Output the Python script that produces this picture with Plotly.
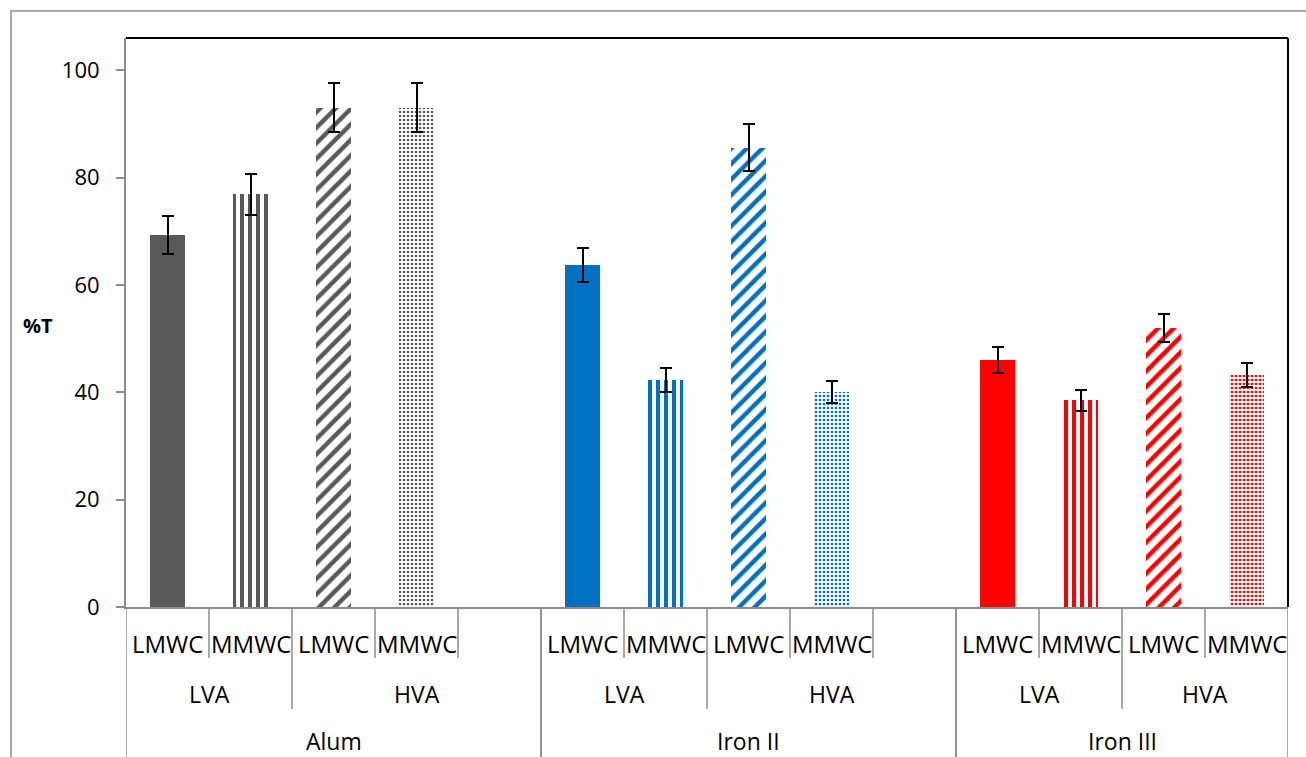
import plotly.graph_objects as go

# ---- data -------------------------------------------------------------
metals = ["Alum", "Iron II", "Iron III"]
va_levels = ["LVA", "HVA"]
mw_levels = ["LMWC", "MMWC"]

# %T per metal, ordered LVA-LMWC, LVA-MMWC, HVA-LMWC, HVA-MMWC
alum_vals = [69.3, 76.9, 93.0, 93.0]
iron2_vals = [63.7, 42.3, 85.6, 40.0]
iron3_vals = [46.0, 38.5, 51.9, 43.2]

alum_err = [3.5, 3.8, 4.6, 4.6]
iron2_err = [3.2, 2.2, 4.3, 2.05]
iron3_err = [2.35, 1.9, 2.6, 2.2]

metal_colors = ["#595959", "#0070C0", "#FF0000"]

values = [alum_vals, iron2_vals, iron3_vals]
errors = [alum_err, iron2_err, iron3_err]

# ---- layout helpers -----------------------------------------------------
W, H = 1306, 757
L, R, T, B = 126, 18, 38, 150
plot_h = H - T - B
plot_w = W - L - R

slots_per_metal = len(va_levels) * len(mw_levels)  # bars per metal
group_step = slots_per_metal + 1                     # one blank slot between metals
n_slots = group_step * (len(metals) - 1) + slots_per_metal


def py(px_y):
    """pixel row -> paper y"""
    return (H - B - px_y) / plot_h


def px(px_x):
    """pixel column -> paper x"""
    return (px_x - L) / plot_w


# pattern per (VA, MW) combination
patterns = {
    (0, 0): dict(shape=""),
    (0, 1): dict(shape="|", size=8, solidity=0.5),
    (1, 0): dict(shape="/", size=11, solidity=0.4),
    (1, 1): dict(shape=".", size=4, solidity=0.36),
}

fig = go.Figure()

for vi, va in enumerate(va_levels):
    for mi, mw in enumerate(mw_levels):
        k = vi * len(mw_levels) + mi
        xs = [g * group_step + k for g in range(len(metals))]
        ys = [values[g][k] for g in range(len(metals))]
        es = [errors[g][k] for g in range(len(metals))]
        pat = dict(patterns[(vi, mi)])
        if pat["shape"]:
            pat.update(fgcolor=metal_colors, bgcolor="white", fillmode="replace")
        fig.add_trace(go.Bar(
            x=xs, y=ys, width=0.41,
            name=f"{va} {mw}",
            marker=dict(color=metal_colors, line=dict(width=0), pattern=pat),
            error_y=dict(type="data", array=es, visible=True,
                         color="black", thickness=2, width=6),
            showlegend=False,
        ))

# ---- category labels and separators under the axis --------------------
sep_color = "#8c8c8c"
row1_bottom = py(658)
row2_bottom = py(709)
row3_bottom = -0.5

shapes = []
annotations = []
font_lbl = dict(family="Open Sans, Noto Sans, sans-serif", size=23, color="black")
font_mw = dict(family="Open Sans, Noto Sans, sans-serif", size=24, color="black")


def vline(xb, y_end):
    shapes.append(dict(type="line", xref="x", yref="paper", x0=xb, x1=xb,
                       y0=0, y1=y_end, line=dict(color=sep_color, width=1.5)))


for g, metal in enumerate(metals):
    base = g * group_step
    last = g == len(metals) - 1
    group_end = base + slots_per_metal - 0.5 if last else base + group_step - 0.5
    # metal boundaries (full height)
    vline(base - 0.5, row3_bottom)
    vline(group_end, row3_bottom)
    annotations.append(dict(x=(base - 0.5 + group_end) / 2, y=py(741), xref="x", yref="paper",
                            text=metal, showarrow=False, font=font_lbl, yanchor="middle"))
    for vi, va in enumerate(va_levels):
        v_start = base + vi * len(mw_levels) - 0.5
        v_end = v_start + len(mw_levels) if vi < len(va_levels) - 1 else group_end
        if vi > 0:
            vline(v_start, row2_bottom)
        annotations.append(dict(x=(v_start + v_end) / 2, y=py(694), xref="x", yref="paper",
                                text=va, showarrow=False, font=font_lbl, yanchor="middle"))
        for mi, mw in enumerate(mw_levels):
            xc = base + vi * len(mw_levels) + mi
            annotations.append(dict(x=xc, y=py(643), xref="x", yref="paper",
                                    text=mw, showarrow=False, font=font_mw, yanchor="middle"))
            edge = xc + 0.5
            if edge != group_end and (mi < len(mw_levels) - 1 or vi == len(va_levels) - 1):
                vline(edge, row1_bottom)

# plot-area frame: black top and right edges
shapes.append(dict(type="line", xref="paper", yref="paper", x0=0, x1=1, y0=1, y1=1,
                   line=dict(color="black", width=2)))
shapes.append(dict(type="line", xref="paper", yref="paper", x0=1, x1=1, y0=0, y1=1,
                   line=dict(color="black", width=2)))
# outer chart border
shapes.append(dict(type="rect", xref="paper", yref="paper", x0=px(11), x1=px(1340),
                   y0=py(11), y1=py(800), line=dict(color="#8c8c8c", width=1.5),
                   fillcolor="rgba(0,0,0,0)", layer="below"))

annotations.append(dict(x=px(21), y=py(325), xref="paper", yref="paper", text="<b>%T</b>",
                        xanchor="left", yanchor="middle", showarrow=False,
                        font=dict(family="Open Sans, sans-serif", size=20, color="black")))

fig.update_layout(
    width=W, height=H,
    margin=dict(l=L, r=R, t=T, b=B, pad=0),
    paper_bgcolor="white", plot_bgcolor="white",
    bargap=0, barmode="overlay",
    shapes=shapes, annotations=annotations,
    xaxis=dict(range=[-0.5, n_slots - 0.5], showticklabels=False, showgrid=False,
               zeroline=False, showline=True, linecolor="#8c8c8c", linewidth=2,
               ticks=""),
    yaxis=dict(range=[0, 106], tickvals=[0, 20, 40, 60, 80, 100], showgrid=False,
               zeroline=False, showline=True, linecolor="#8c8c8c", linewidth=2,
               ticks="outside", ticklen=8, tickcolor="#8c8c8c", tickwidth=1.5,
               ticklabelstandoff=12,
               tickfont=dict(family="Open Sans, Noto Sans, sans-serif", size=22, color="black")),
)

fig.write_html("out.html")
